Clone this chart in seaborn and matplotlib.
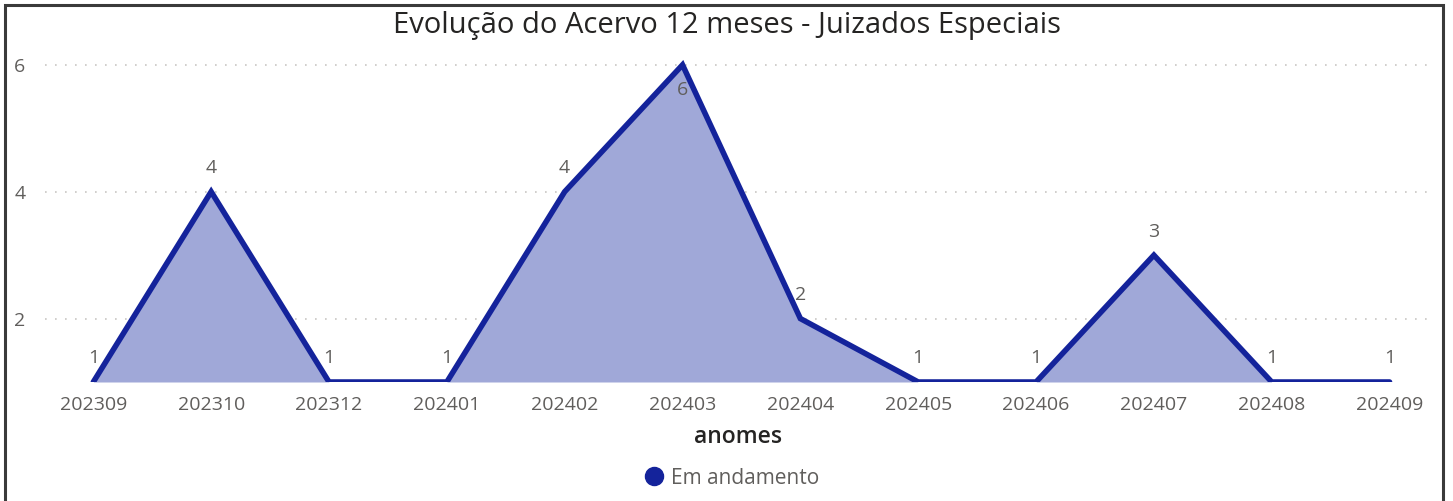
import matplotlib.pyplot as plt
import matplotlib.patches as mpatches
from matplotlib.lines import Line2D
import seaborn as sns
import pandas as pd

anomes = ["202309", "202310", "202312", "202401", "202402", "202403",
          "202404", "202405", "202406", "202407", "202408", "202409"]
acervo = [1, 4, 1, 1, 4, 6, 2, 1, 1, 3, 1, 1]
serie = "Em andamento"

LINE = "#14239b"
FILL = "#a0a8d8"
GRAY = "#605e5c"

sns.set_theme(style="white")
plt.rcParams["font.family"] = ["Open Sans", "DejaVu Sans"]

df = pd.DataFrame({"anomes": anomes, "acervo": acervo})
df["pos"] = range(len(df))

fig = plt.figure(figsize=(14.53, 5.01), dpi=100)
ax = fig.add_axes([45 / 1453, 119 / 501, 1387 / 1453, 333 / 501])

ax.fill_between(df["pos"], df["acervo"], 1, color=FILL, linewidth=0, zorder=1)
sns.lineplot(data=df, x="pos", y="acervo", color=LINE, linewidth=4,
             ax=ax, zorder=3, solid_joinstyle="miter")

# data labels: above the point, the peak one sits just under it
ymax = max(acervo)
for x, y in zip(df["pos"], df["acervo"]):
    dy = -18 if y == ymax else 17
    ax.annotate(str(y), (x, y), xytext=(0, dy), textcoords="offset points",
                ha="center", va="center", fontsize=14, color=GRAY, zorder=4)

ax.set_xlim(-0.41, 11.36)
ax.set_ylim(1, 6.25)
ax.set_xticks(df["pos"])
ax.set_xticklabels(anomes, fontsize=14, color=GRAY)
ax.set_yticks([2, 4, 6])
ax.set_yticklabels(["2", "4", "6"], fontsize=14, color=GRAY)
ax.tick_params(axis="y", pad=14, length=0)
ax.tick_params(axis="x", pad=10, length=0)
ax.yaxis.grid(True, linestyle=(0, (1, 5)), color="#c8c6c4", linewidth=1.2)
ax.set_axisbelow(True)
for s in ax.spines.values():
    s.set_visible(False)

ax.set_xlabel("anomes", fontsize=16.5, color="#252423", labelpad=8,
              fontweight="semibold")
ax.set_ylabel("")

fig.suptitle("Evolução do Acervo 12 meses - Juizados Especiais",
             fontsize=21, color="#252423", x=0.5, y=1 - 25 / 501, va="center")

handle = Line2D([], [], marker="o", linestyle="", markersize=13, color=LINE)
fig.legend([handle], [serie], loc="center", bbox_to_anchor=(0.5, 23 / 501),
           frameon=False, fontsize=15, labelcolor=GRAY, handletextpad=-0.2,
           borderaxespad=0)

fig.patches.append(mpatches.Rectangle((5 / 1453, -0.01), 1438 / 1453, 1.01 - 5 / 501,
                                      transform=fig.transFigure, fill=False,
                                      edgecolor="#3a3a3a", linewidth=2.2))

fig.savefig("out.png", dpi=100)
